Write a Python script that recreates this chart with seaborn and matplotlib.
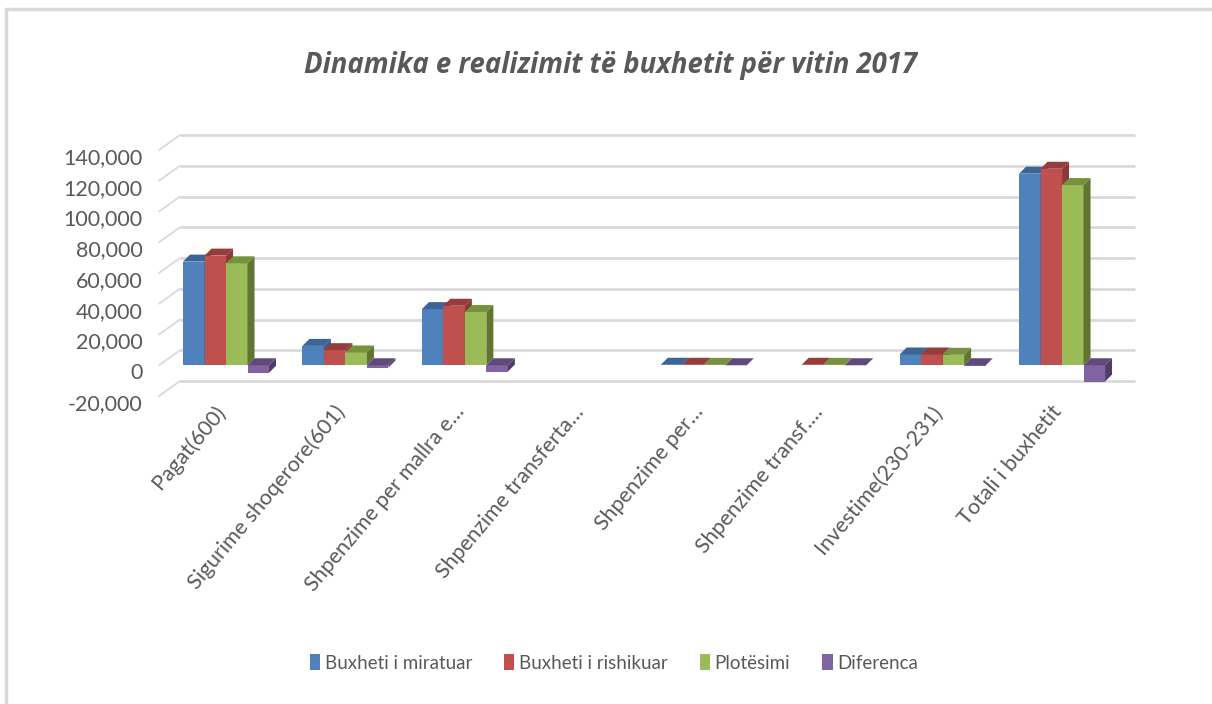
import numpy as np
import pandas as pd
import matplotlib
matplotlib.use("Agg")
import matplotlib.pyplot as plt
import matplotlib.transforms as mtransforms
from matplotlib.patches import Polygon, Patch
import seaborn as sns

# ---------------- data ----------------
categories = ["Pagat(600)", "Sigurime shoqerore(601)", "Shpenzime per mallra e…",
              "Shpenzime transferta…", "Shpenzime per…", "Shpenzime transf.…",
              "Investime(230-231)", "Totali i buxhetit"]
series = ["Buxheti i miratuar", "Buxheti i rishikuar", "Plotësimi", "Diferenca"]
miratuar = [67400, 12600, 36500, np.nan, 300, np.nan, 7000, 124600]
rishikuar = [71300, 9800, 38700, np.nan, 300, 300, 7000, 127800]
plotesimi = [66300, 8300, 34600, np.nan, 250, 250, 6800, 117200]
diferenca = [-4900, -1500, -4100, np.nan, -50, -50, -200, -10600]
yticks = [-20000, 0, 20000, 40000, 60000, 80000, 100000, 120000, 140000]
title = "Dinamika e realizimit të buxhetit për vitin 2017"

colors = ["#4F81BD", "#C0504D", "#9BBB59", "#8064A2"]
tops = ["#3C6496", "#963C3A", "#76923C", "#604A7B"]
sides = ["#385D8A", "#8C3836", "#5F7530", "#4F3D66"]

rows = []
for s, vals in zip(series, [miratuar, rishikuar, plotesimi, diferenca]):
    for c, v in zip(categories, vals):
        rows.append({"cat": c, "series": s, "val": v})
df = pd.DataFrame(rows)

# ---------------- style ----------------
sns.set_style("white")
FONT = ["Lato", "DejaVu Sans"]
plt.rcParams["font.family"] = FONT
TXT = "#595959"

W, H, DPI = 1212, 704, 100
fig = plt.figure(figsize=(W / DPI, H / DPI), dpi=DPI)

# axes (front plane) in pixels
ax_l, ax_r, ax_t, ax_b = 159, 1114, 150, 396
ax = fig.add_axes([ax_l / W, 1 - ax_b / H, (ax_r - ax_l) / W, (ax_b - ax_t) / H])

xlim = (-0.561, 7.435)
ylim = (-20000, 140000)

sns.barplot(data=df, x="cat", y="val", hue="series", order=categories,
            hue_order=series, palette=colors, saturation=1, width=0.72,
            errorbar=None, legend=False, ax=ax, zorder=2)
ax.set_xlim(*xlim)
ax.set_ylim(*ylim)

pxx = (ax_r - ax_l) / (xlim[1] - xlim[0])   # px per x unit
pxy = (ax_b - ax_t) / (ylim[1] - ylim[0])   # px per y unit

# ---------------- 3D-like walls / gridlines ----------------
bdx, bdy = 21 / pxx, 15 / pxy   # back wall offset
grid_c = "#D9D9D9"
for t in yticks:
    ax.plot([xlim[0] + bdx, xlim[1] + bdx], [t + bdy, t + bdy], color=grid_c,
            lw=2.0, zorder=0.5, clip_on=False, solid_capstyle="butt")
    ax.plot([xlim[0], xlim[0] + bdx], [t, t + bdy], color=grid_c,
            lw=1.3, zorder=0.5, clip_on=False)

# ---------------- 3D faces on bars ----------------
ddx, ddy = 7 / pxx, 7 / pxy
col_map = {tuple(np.round(matplotlib.colors.to_rgb(c), 3)): i for i, c in enumerate(colors)}
bars = list(ax.patches)
for p in bars:
    h = p.get_height()
    if not np.isfinite(h):
        p.set_visible(False)
        continue
    key = tuple(np.round(p.get_facecolor()[:3], 3))
    k = col_map.get(key, 0)
    z = 2 + 0.1 * k
    p.set_zorder(z)
    p.set_edgecolor("none")
    x0 = p.get_x()
    x1 = x0 + p.get_width()
    y0 = p.get_y()
    ytop = max(y0, y0 + h)
    ybot = min(y0, y0 + h)
    top = Polygon([[x0, ytop], [x1, ytop], [x1 + ddx, ytop + ddy], [x0 + ddx, ytop + ddy]],
                  closed=True, facecolor=tops[k], edgecolor="none", zorder=z, clip_on=False)
    side = Polygon([[x1, ybot], [x1, ytop], [x1 + ddx, ytop + ddy], [x1 + ddx, ybot + ddy]],
                   closed=True, facecolor=sides[k], edgecolor="none", zorder=z, clip_on=False)
    ax.add_patch(side)
    ax.add_patch(top)

# ---------------- axes text ----------------
for sp in ax.spines.values():
    sp.set_visible(False)
ax.set_xlabel("")
ax.set_ylabel("")
ax.set_yticks(yticks)
ax.set_yticklabels([f"{v:,}" for v in yticks], fontsize=15.5, color=TXT)
ax.tick_params(axis="y", length=0, pad=12)
off_y = mtransforms.ScaledTranslation(0, -6 / DPI, fig.dpi_scale_trans)
for lab in ax.get_yticklabels():
    lab.set_transform(lab.get_transform() + off_y)

ax.set_xticks(range(len(categories)))
ax.set_xticklabels(categories, fontsize=15.5, color=TXT, rotation=50,
                   ha="right", va="center", rotation_mode="anchor")
ax.tick_params(axis="x", length=0, pad=9)
off_x = mtransforms.ScaledTranslation(-4 / DPI, 0, fig.dpi_scale_trans)
for lab in ax.get_xticklabels():
    lab.set_transform(lab.get_transform() + off_x)

# ---------------- title ----------------
fig.text(610 / W, 1 - 65 / H, title, ha="center", va="center", fontsize=19.8,
         fontweight="bold", fontstyle="italic", color=TXT,
         family=["Open Sans", "DejaVu Sans"])

# ---------------- legend ----------------
handles = [Patch(facecolor=c, edgecolor="none", label=s) for s, c in zip(series, colors)]
fig.legend(handles=handles, loc="center", bbox_to_anchor=(614 / W, 1 - 663 / H),
           ncol=4, frameon=False, fontsize=13.5, handlelength=0.55, handleheight=0.9,
           handletextpad=0.25, columnspacing=1.7, labelcolor=TXT)

# ---------------- chart border ----------------
fig.add_artist(plt.Line2D([6 / W, 6 / W], [0, 1 - 9 / H], color="#D9D9D9", lw=2.5,
                          transform=fig.transFigure))
fig.add_artist(plt.Line2D([6 / W, 1], [1 - 9 / H, 1 - 9 / H], color="#D9D9D9", lw=2.5,
                          transform=fig.transFigure))

fig.savefig("out.png", dpi=DPI)
